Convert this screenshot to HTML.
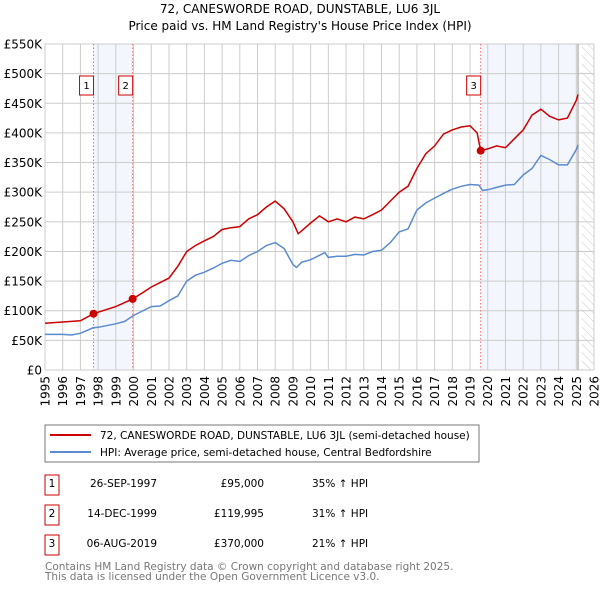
<!DOCTYPE html>
<html><head><meta charset="utf-8"><style>
body{margin:0;background:#fff;width:600px;height:590px;overflow:hidden;font-family:"DejaVu Sans","Liberation Sans",sans-serif}
svg text{font-family:"DejaVu Sans","Liberation Sans",sans-serif}
</style></head><body>
<svg id="c" width="600" height="590" xmlns="http://www.w3.org/2000/svg">
<defs><pattern id="hatch" width="6" height="6" patternUnits="userSpaceOnUse" patternTransform="rotate(-45)"><line x1="0" y1="0" x2="0" y2="6" stroke="#bbb" stroke-width="0.8"/></pattern></defs>
<text x="300" y="13" text-anchor="middle" font-size="12" fill="#000">72, CANESWORDE ROAD, DUNSTABLE, LU6 3JL</text>
<text x="300" y="30" text-anchor="middle" font-size="12" fill="#000">Price paid vs. HM Land Registry's House Price Index (HPI)</text>
<g id="plot"></g>
<rect x="45" y="425" width="434" height="37" fill="#fff" stroke="#777"/>
<line x1="50" y1="435" x2="91" y2="435" stroke="#cc0000" stroke-width="2"/>
<text x="100" y="439" font-size="10.5">72, CANESWORDE ROAD, DUNSTABLE, LU6 3JL (semi-detached house)</text>
<line x1="50" y1="452" x2="91" y2="452" stroke="#5b8bd0" stroke-width="2"/>
<text x="100" y="456" font-size="10.5">HPI: Average price, semi-detached house, Central Bedfordshire</text>
<g font-size="10.5">
<rect x="45" y="475" width="14" height="20" fill="none" stroke="#cc0000"/><text x="52" y="487" text-anchor="middle">1</text>
<text x="157" y="487" text-anchor="end">26-SEP-1997</text><text x="264" y="487" text-anchor="end">£95,000</text><text x="312" y="487">35% ↑ HPI</text>
<rect x="45" y="505" width="14" height="20" fill="none" stroke="#cc0000"/><text x="52" y="517" text-anchor="middle">2</text>
<text x="157" y="517" text-anchor="end">14-DEC-1999</text><text x="264" y="517" text-anchor="end">£119,995</text><text x="312" y="517">31% ↑ HPI</text>
<rect x="45" y="535" width="14" height="20" fill="none" stroke="#cc0000"/><text x="52" y="547" text-anchor="middle">3</text>
<text x="157" y="547" text-anchor="end">06-AUG-2019</text><text x="264" y="547" text-anchor="end">£370,000</text><text x="312" y="547">21% ↑ HPI</text>
</g>
<text x="45" y="570" font-size="10.5" fill="#777">Contains HM Land Registry data © Crown copyright and database right 2025.</text>
<text x="45" y="580" font-size="10.5" fill="#777">This data is licensed under the Open Government Licence v3.0.</text>
</svg>
<script>
const hpiYears=[1995,1996,1996.5,1997,1997.7,1998,1999,1999.5,2000,2001,2001.5,2002,2002.5,2003,2003.5,2004,2004.5,2005,2005.5,2006,2006.5,2007,2007.5,2008,2008.5,2009,2009.2,2009.5,2010,2010.8,2011,2011.5,2012,2012.5,2013,2013.5,2014,2014.5,2015,2015.5,2016,2016.5,2017,2017.5,2018,2018.5,2019,2019.5,2019.7,2020,2020.5,2021,2021.5,2022,2022.5,2023,2023.5,2024,2024.5,2025,2025.1];
const hpiValues=[60000,60000,59000,62000,71000,72000,78000,82000,92000,107000,108000,117000,125000,150000,160000,165000,172000,180000,185000,183000,193000,200000,210000,215000,205000,178000,173000,182000,186000,198000,190000,192000,192000,195000,194000,200000,202000,215000,233000,238000,270000,282000,290000,298000,305000,310000,313000,312000,303000,304000,308000,312000,313000,329000,340000,362000,355000,346000,346000,372000,380000];
const priceYears=[1995,1996,1997,1997.74,1999,1999.95,2000.5,2001,2002,2002.5,2003,2003.5,2004,2004.5,2005,2005.5,2006,2006.5,2007,2007.5,2008,2008.5,2009,2009.3,2009.5,2010,2010.5,2011,2011.5,2012,2012.5,2013,2013.5,2014,2014.5,2015,2015.5,2016,2016.5,2017,2017.5,2018,2018.5,2019,2019.4,2019.6,2020,2020.5,2021,2021.5,2022,2022.5,2023,2023.5,2024,2024.5,2025,2025.1];
const priceValues=[79000,81000,83000,95000,107000,120000,130000,140000,155000,175000,200000,210000,218000,225000,237000,240000,242000,255000,262000,275000,285000,272000,250000,230000,235000,248000,260000,250000,255000,250000,258000,255000,262000,270000,285000,300000,310000,340000,365000,378000,398000,405000,410000,412000,400000,370000,373000,378000,375000,390000,405000,430000,440000,428000,422000,425000,455000,465000];
const saleYears=[1997.74,1999.95,2019.6];
const saleValues=[95000,119995,370000];
const saleLabels=["1","2","3"];
const yTicks=[0,50000,100000,150000,200000,250000,300000,350000,400000,450000,500000,550000];
const yTickLabels=["£0","£50K","£100K","£150K","£200K","£250K","£300K","£350K","£400K","£450K","£500K","£550K"];
const xTicks=[1995,1996,1997,1998,1999,2000,2001,2002,2003,2004,2005,2006,2007,2008,2009,2010,2011,2012,2013,2014,2015,2016,2017,2018,2019,2020,2021,2022,2023,2024,2025,2026];

const X0=45,X1=594,Y0=370,Y1=44;
const xs=y=>X0+(y-1995)/(2026-1995)*(X1-X0);
const ys=v=>Y0-v/550000*(Y0-Y1);
const NS='http://www.w3.org/2000/svg';
const g=document.getElementById('plot');
function mk(t,a){const e=document.createElementNS(NS,t);for(const k in a)e.setAttribute(k,a[k]);g.appendChild(e);return e;}
let e;
e=mk('rect',{x:xs(saleYears[0]),y:Y1,width:xs(saleYears[1])-xs(saleYears[0]),height:Y0-Y1,fill:'#f3f6fd'});

e=mk('rect',{x:xs(saleYears[2]),y:Y1,width:xs(2025.1)-xs(saleYears[2]),height:Y0-Y1,fill:'#f3f6fd'});

e=mk('rect',{x:xs(2025.3),y:Y1,width:X1-xs(2025.3),height:Y0-Y1,fill:'url(#hatch)'});

xTicks.forEach(t=>{e=mk('line',{x1:xs(t),x2:xs(t),y1:Y1,y2:Y0,stroke:'#ccc','stroke-width':1});

e=mk('text',{x:0,y:0,'font-size':12,'text-anchor':'end',transform:`translate(${xs(t)+4.5},${Y0+6}) rotate(-90)`});e.textContent=t;
});
yTicks.forEach((t,i)=>{e=mk('line',{x1:X0,x2:X1,y1:ys(t),y2:ys(t),stroke:'#ccc','stroke-width':1});

e=mk('text',{x:X0-3,y:ys(t)+4.5,'font-size':12,'text-anchor':'end'});e.textContent=yTickLabels[i];
});
e=mk('line',{x1:xs(2025.1),x2:xs(2025.1),y1:Y1,y2:Y0,stroke:'#999','stroke-width':1});

saleYears.forEach((s,i)=>{e=mk('line',{x1:xs(s),x2:xs(s),y1:Y1,y2:Y0,stroke:'#f07070','stroke-width':1,'stroke-dasharray':'1.5,2'});

e=mk('rect',{x:xs(s)-14,y:76,width:14,height:19,fill:'#fff',stroke:'#cc0000'});

e=mk('text',{x:xs(s)-7,y:89,'font-size':10,'text-anchor':'middle'});e.textContent=saleLabels[i];
});
const path=(xa,va)=>xa.map((x,i)=>(i?'L':'M')+xs(x).toFixed(1)+','+ys(va[i]).toFixed(1)).join('');
e=mk('path',{d:path(hpiYears,hpiValues),fill:'none',stroke:'#5b8bd0','stroke-width':1.5});

e=mk('path',{d:path(priceYears,priceValues),fill:'none',stroke:'#cc0000','stroke-width':1.5});

saleYears.forEach((s,i)=>{e=mk('circle',{cx:xs(s),cy:ys(saleValues[i]),r:4,fill:'#cc0000'});
});
</script>
</body></html>
